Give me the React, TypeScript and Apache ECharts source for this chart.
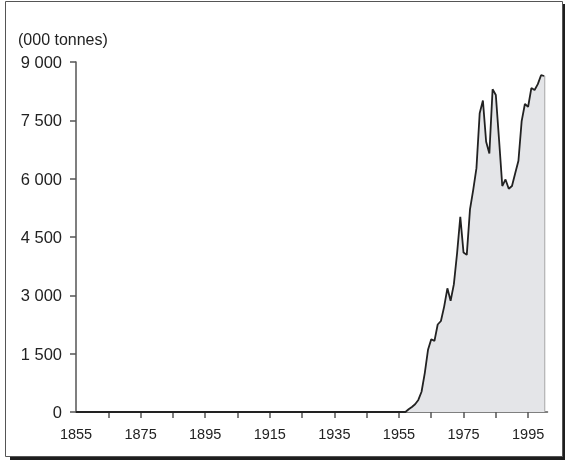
import React, { useEffect, useRef } from "react";
import * as echarts from "echarts";

// Production, thousand tonnes (zero until the late 1950s)
const years = [
  1855, 1957, 1958, 1959, 1960, 1961, 1962, 1963, 1964, 1965, 1966, 1967, 1968, 1969,
  1970, 1971, 1972, 1973, 1974, 1975, 1976, 1977, 1978, 1979, 1980, 1981, 1982, 1983,
  1984, 1985, 1986, 1987, 1988, 1989, 1990, 1991, 1992, 1993, 1994, 1995, 1996, 1997,
  1998, 1999, 2000,
];
const values = [
  0, 0, 70, 130, 200, 310, 520, 1000, 1600, 1870, 1830, 2250, 2340, 2710,
  3180, 2860, 3280, 4080, 5020, 4100, 4040, 5210, 5710, 6270, 7680, 8010, 6950, 6650,
  8300, 8150, 7000, 5810, 5980, 5740, 5810, 6140, 6460, 7480, 7920, 7850, 8330, 8280,
  8430, 8660, 8640,
];
const xTickYears = [1865, 1875, 1885, 1895, 1905, 1915, 1925, 1935, 1945, 1955, 1965, 1975, 1985, 1995];
const xLabelYears = [1855, 1875, 1895, 1915, 1935, 1955, 1975, 1995];
const yTicks = [0, 1500, 3000, 4500, 6000, 7500, 9000];
const unitLabel = "(000 tonnes)";

const fmt = (v: number) => {
  const s = String(Math.round(v));
  return s.replace(/\B(?=(\d{3})+(?!\d))/g, "\u00a0");
};

export default function App() {
  const ref = useRef<HTMLDivElement>(null);
  useEffect(() => {
    if (!ref.current) return;
    const chart = echarts.init(ref.current, null, { renderer: "svg" });
    const lastYear = years[years.length - 1];
    const lastVal = values[values.length - 1];
    chart.setOption({
      animation: false,
      textStyle: { fontFamily: "Liberation Sans, Arial, sans-serif" },
      grid: { left: 76, right: 18.5, top: 62, bottom: 48, containLabel: false },
      graphic: [
        { type: "rect", z: -20, silent: true, shape: { x: 10, y: 4, width: 555, height: 456 }, style: { fill: "#1e1e1e" } },
        { type: "rect", z: -10, silent: true, shape: { x: 5.5, y: 1.5, width: 557, height: 455 }, style: { fill: "#fff", stroke: "#555", lineWidth: 1 } },
        {
          type: "text", left: 18, top: 31,
          style: { text: unitLabel, fontSize: 16, fill: "#222", fontFamily: "Liberation Sans, Arial, sans-serif" },
        },
      ],
      xAxis: {
        type: "value",
        min: 1855,
        max: 2001,
        splitLine: { show: false },
        axisLine: { show: true, onZero: false, lineStyle: { color: "#555", width: 1.5 } },
        axisTick: { show: true, length: 6, customValues: xTickYears, lineStyle: { color: "#555", width: 1.5 } },
        axisLabel: { customValues: xLabelYears, fontSize: 14.5, color: "#222", margin: 14, formatter: (v: number) => String(v) },
      },
      yAxis: {
        type: "value",
        min: 0,
        max: 9000,
        interval: 1500,
        splitLine: { show: false },
        axisLine: { show: true, lineStyle: { color: "#555", width: 1.5 } },
        axisTick: { show: true, length: 6, customValues: yTicks, lineStyle: { color: "#555", width: 1.5 } },
        axisLabel: { customValues: yTicks, fontSize: 16.5, color: "#222", margin: 14, formatter: (v: number) => fmt(v) },
      },
      series: [
        {
          type: "line",
          data: years.map((y, i) => [y, values[i]]),
          symbol: "none",
          z: 3,
          lineStyle: { color: "#222", width: 1.8 },
          areaStyle: { color: "#e4e5e8", opacity: 1 },
        },
        {
          type: "line",
          data: [[lastYear, 0], [lastYear, lastVal]],
          symbol: "none",
          z: 2,
          lineStyle: { color: "#a8a8a8", width: 2 },
        },
      ],
    });
    return () => chart.dispose();
  }, []);
  return <div ref={ref} style={{ position: "fixed", left: 0, top: 0, width: 566, height: 460 }} />;
}
